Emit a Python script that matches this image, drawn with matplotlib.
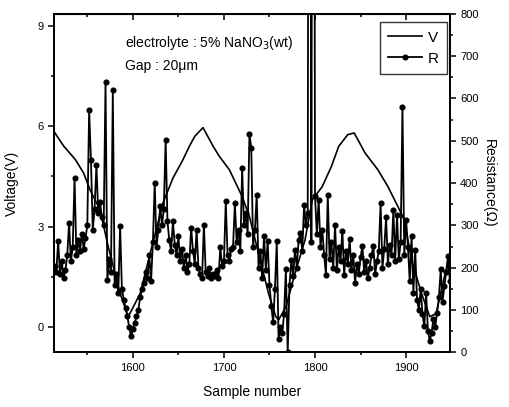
import numpy as np
import matplotlib.pyplot as plt
from matplotlib.ticker import MultipleLocator

plt.rcParams['font.family'] = ['Liberation Sans', 'DejaVu Sans']

# voltage trace (sample number, volts)
v_sample = [1513, 1524, 1537, 1546, 1553, 1564, 1573, 1586, 1595, 1608,
            1619, 1633, 1644, 1655, 1662, 1668, 1677, 1688, 1695, 1706,
            1720, 1728, 1738, 1749, 1757, 1760, 1768, 1778, 1789, 1797,
            1808, 1818, 1826, 1836, 1843, 1855, 1869, 1880, 1891, 1898,
            1906, 1917, 1926, 1933, 1942, 1950]
v_volt = [5.86, 5.41, 5.0, 4.6, 4.1, 3.5, 2.4, 1.0, 0.31, 1.0,
          2.2, 3.7, 4.45, 5.0, 5.4, 5.7, 5.96, 5.41, 5.1, 4.7,
          3.9, 3.3, 2.2, 1.0, 0.31, 0.21, 0.6, 1.6, 2.6, 3.8,
          4.2, 4.8, 5.4, 5.75, 5.8, 5.2, 4.7, 4.2, 3.6, 3.2,
          2.0, 1.0, 0.31, 0.4, 1.5, 2.2]

# resistance, one reading every 2 samples starting at 1514
r_start = 1514
r_ohm = [205, 190, 263, 185, 215, 175, 195, 230, 307,
         215, 250, 413, 230, 265, 240, 280, 245, 270, 300,
         573, 455, 290, 340, 443, 330, 355, 320, 300, 640,
         172, 220, 190, 619, 160, 185, 140, 298, 150, 125,
         105, 85, 60, 38, 55, 70, 85, 100, 130, 149,
         165, 190, 175, 230, 168, 260, 401, 250, 290, 345,
         300, 340, 503, 310, 265, 240, 310, 255, 230, 275,
         215, 245, 200, 230, 190, 210, 295, 240, 210, 290,
         200, 185, 175, 302, 190, 180, 200, 175, 185, 180,
         195, 175, 248, 205, 215, 357, 230, 215, 245, 250,
         352, 260, 290, 240, 436, 300, 330, 280, 516, 484,
         250, 290, 373, 200, 240, 175, 275, 195, 263, 160,
         110, 71, 150, 263, 31, 60, 45, 90, 196, 0,
         160, 219, 180, 243, 200, 265, 283, 240, 349, 300,
         330, 3000, 260, 3000, 369, 280, 361, 250, 290, 230,
         184, 373, 220, 260, 200, 302, 194, 250, 215, 288,
         184, 240, 210, 267, 195, 230, 165, 210, 185, 225,
         251, 190, 215, 175, 200, 230, 251, 185, 215, 240,
         353, 200, 245, 320, 210, 255, 230, 337, 215, 325,
         220, 260, 581, 230, 314, 250, 168, 275, 140, 243,
         125, 101, 150, 90, 62, 141, 50, 27, 47, 80,
         60, 94, 130, 196, 120, 156, 190, 227, 170, 205]
r_sample = np.arange(r_start, r_start + 2 * len(r_ohm), 2)

fig = plt.figure(figsize=(5.1, 4.07), dpi=100)
ax = fig.add_axes([0.106, 0.134, 0.776, 0.832])
ax2 = ax.twinx()

line_v, = ax.plot(v_sample, v_volt, color='black', lw=1.2, label='V')
line_r, = ax2.plot(r_sample, r_ohm, color='black', lw=1.3, marker='o',
                   ms=3.4, label='R')

ax.set_xlim(1513.5, 1948)
ax.set_ylim(-0.76, 9.36)
ax2.set_ylim(0, 800)

ax.xaxis.set_major_locator(MultipleLocator(100))
ax.xaxis.set_minor_locator(MultipleLocator(50))
ax.yaxis.set_major_locator(MultipleLocator(3))
ax.yaxis.set_minor_locator(MultipleLocator(1.5))
ax2.yaxis.set_major_locator(MultipleLocator(100))
ax2.yaxis.set_minor_locator(MultipleLocator(50))

ax.tick_params(which='both', direction='out', labelsize=8, width=1.1)
ax.tick_params(which='major', length=4)
ax.tick_params(which='minor', length=2.5)
ax2.tick_params(which='both', direction='out', labelsize=8, width=1.1)
ax2.tick_params(which='major', length=4)
ax2.tick_params(which='minor', length=2.5)

top = ax.secondary_xaxis('top')
top.xaxis.set_major_locator(MultipleLocator(100))
top.xaxis.set_minor_locator(MultipleLocator(50))
top.tick_params(which='both', direction='in', labeltop=False, width=1.1)
top.tick_params(which='major', length=4)
top.tick_params(which='minor', length=2.5)

for a in (ax, ax2):
    for s in a.spines.values():
        s.set_linewidth(1.3)

ax.set_xlabel('Sample number', fontsize=10, labelpad=9)
ax.set_ylabel('Voltage(V)', fontsize=10, labelpad=13)
ax2.set_ylabel('Resistance(\u03a9)', fontsize=10, rotation=270, labelpad=12)

ax.text(0.18, 0.915, 'electrolyte : 5% NaNO$_3$(wt)', transform=ax.transAxes,
        fontsize=10, va='center')
ax.text(0.18, 0.845, 'Gap : 20\u03bcm', transform=ax.transAxes,
        fontsize=10, va='center')

leg = ax2.legend([line_v, line_r], ['V', 'R'], loc='upper right',
                 bbox_to_anchor=(0.993, 0.975), borderaxespad=0,
                 fontsize=11, frameon=True, fancybox=False,
                 edgecolor='black', handlelength=2.2, handletextpad=0.4,
                 borderpad=0.55, labelspacing=0.45, numpoints=1)
leg.get_frame().set_linewidth(1.0)

fig.savefig('out.png', dpi=100)
